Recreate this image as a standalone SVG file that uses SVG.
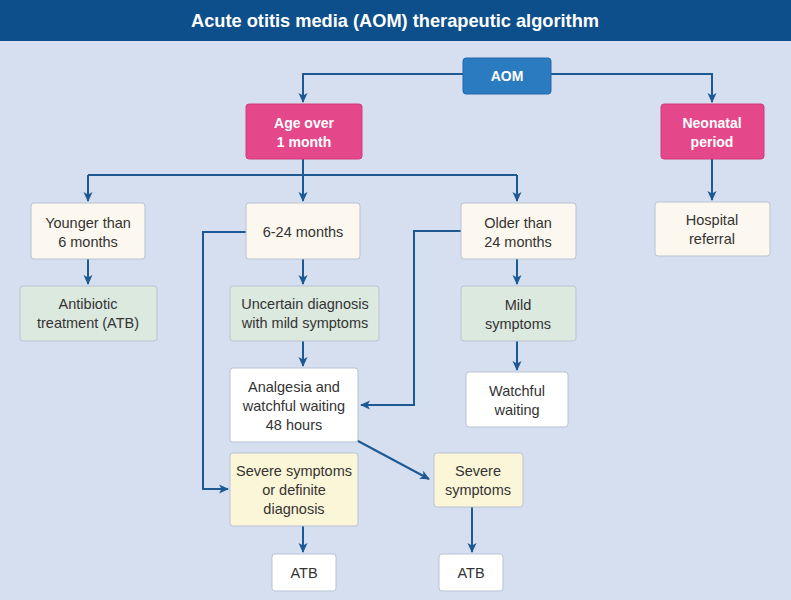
<svg xmlns="http://www.w3.org/2000/svg" width="791" height="600" viewBox="0 0 791 600">
<style>
.t{font-family:"Liberation Sans",Arial,sans-serif;font-size:14.5px;fill:#333;text-anchor:middle}
.w{font-family:"Liberation Sans",Arial,sans-serif;font-size:14px;font-weight:bold;fill:#fff;text-anchor:middle}
.box{stroke:#b9c3d3;stroke-width:1}
.cream{fill:#fdf8ef}
.green{fill:#dce9df}
.yellow{fill:#fcf6d8}
.white{fill:#ffffff}
.pink{fill:#e4478a;stroke:#d03a7a;stroke-width:1}
.blue{fill:#2b7bc1;stroke:#2368a8;stroke-width:1}
.c{fill:none;stroke:#1d5a94;stroke-width:2}
</style>
<defs>
<marker id="ah" markerUnits="userSpaceOnUse" markerWidth="10" markerHeight="10" viewBox="0 0 10 10" refX="9" refY="5" orient="auto">
<path d="M0,0.5 L10,5 L0,9.5 L2.5,5 Z" fill="#1d5a94"/>
</marker>
</defs>
<rect x="0" y="0" width="791" height="600" fill="#d6dff0"/>
<rect x="0" y="0" width="791" height="41" fill="#0d4f8b"/>
<text x="395" y="27" font-family="Liberation Sans, Arial, sans-serif" font-size="19" font-weight="bold" fill="#fff" text-anchor="middle" textLength="408" lengthAdjust="spacingAndGlyphs">Acute otitis media (AOM) therapeutic algorithm</text>

<g id="connectors">
<path class="c" d="M463,74 H303 V102" marker-end="url(#ah)"/>
<path class="c" d="M551,74 H712 V102" marker-end="url(#ah)"/>
<path class="c" d="M303,159 V201" marker-end="url(#ah)"/>
<path class="c" d="M88,175 H517" />
<path class="c" d="M88,175 V201" marker-end="url(#ah)"/>
<path class="c" d="M517,175 V201" marker-end="url(#ah)"/>
<path class="c" d="M712,159 V200" marker-end="url(#ah)"/>
<path class="c" d="M88,259 V284" marker-end="url(#ah)"/>
<path class="c" d="M303,259 V284" marker-end="url(#ah)"/>
<path class="c" d="M517,259 V284" marker-end="url(#ah)"/>
<path class="c" d="M303,341 V366" marker-end="url(#ah)"/>
<path class="c" d="M517,341 V370" marker-end="url(#ah)"/>
<path class="c" d="M246,232 H203 V489 H228" marker-end="url(#ah)"/>
<path class="c" d="M461,231 H414 V405 H361" marker-end="url(#ah)"/>
<path class="c" d="M358,441 L429,479" marker-end="url(#ah)"/>
<path class="c" d="M303,526 V552" marker-end="url(#ah)"/>
<path class="c" d="M472,507 V552" marker-end="url(#ah)"/>
</g>

<g id="aom"><rect class="blue" x="463" y="58" width="88" height="36" rx="3"/><text class="w" x="507" y="81">AOM</text></g>
<g id="age"><rect class="pink" x="246" y="104" width="116" height="55" rx="3"/><text class="w" x="304" y="128">Age over</text><text class="w" x="304" y="147">1 month</text></g>
<g id="neonatal"><rect class="pink" x="661" y="104" width="103" height="55" rx="3"/><text class="w" x="712" y="128">Neonatal</text><text class="w" x="712" y="147">period</text></g>
<g id="younger"><rect class="box cream" x="31" y="203" width="114" height="56" rx="3"/><text class="t" x="88" y="228">Younger than</text><text class="t" x="88" y="247">6 months</text></g>
<g id="m6to24"><rect class="box cream" x="246" y="203" width="114" height="56" rx="3"/><text class="t" x="303" y="237">6-24 months</text></g>
<g id="older"><rect class="box cream" x="461" y="203" width="115" height="56" rx="3"/><text class="t" x="518" y="228">Older than</text><text class="t" x="518" y="247">24 months</text></g>
<g id="hospital"><rect class="box cream" x="655" y="202" width="115" height="54" rx="3"/><text class="t" x="712" y="225">Hospital</text><text class="t" x="712" y="244">referral</text></g>
<g id="antibiotic"><rect class="box green" x="20" y="286" width="137" height="55" rx="3"/><text class="t" x="88" y="309">Antibiotic</text><text class="t" x="88" y="328">treatment (ATB)</text></g>
<g id="uncertain"><rect class="box green" x="230" y="286" width="149" height="55" rx="3"/><text class="t" x="305" y="309">Uncertain diagnosis</text><text class="t" x="305" y="328">with mild symptoms</text></g>
<g id="mild"><rect class="box green" x="461" y="286" width="115" height="55" rx="3"/><text class="t" x="518" y="310">Mild</text><text class="t" x="518" y="329">symptoms</text></g>
<g id="analgesia"><rect class="box white" x="230" y="368" width="128" height="74" rx="3"/><text class="t" x="294" y="392">Analgesia and</text><text class="t" x="294" y="411">watchful waiting</text><text class="t" x="294" y="430">48 hours</text></g>
<g id="watchful"><rect class="box white" x="466" y="372" width="102" height="55" rx="3"/><text class="t" x="517" y="396">Watchful</text><text class="t" x="517" y="415">waiting</text></g>
<g id="severeDef"><rect class="box yellow" x="230" y="453" width="128" height="73" rx="3"/><text class="t" x="294" y="476">Severe symptoms</text><text class="t" x="294" y="495">or definite</text><text class="t" x="294" y="514">diagnosis</text></g>
<g id="severe"><rect class="box yellow" x="434" y="453" width="89" height="54" rx="3"/><text class="t" x="478" y="476">Severe</text><text class="t" x="478" y="495">symptoms</text></g>
<g id="atb1"><rect class="box white" x="272" y="554" width="64" height="37" rx="3"/><text class="t" x="304" y="578">ATB</text></g>
<g id="atb2"><rect class="box white" x="439" y="554" width="64" height="37" rx="3"/><text class="t" x="471" y="578">ATB</text></g>
</svg>
